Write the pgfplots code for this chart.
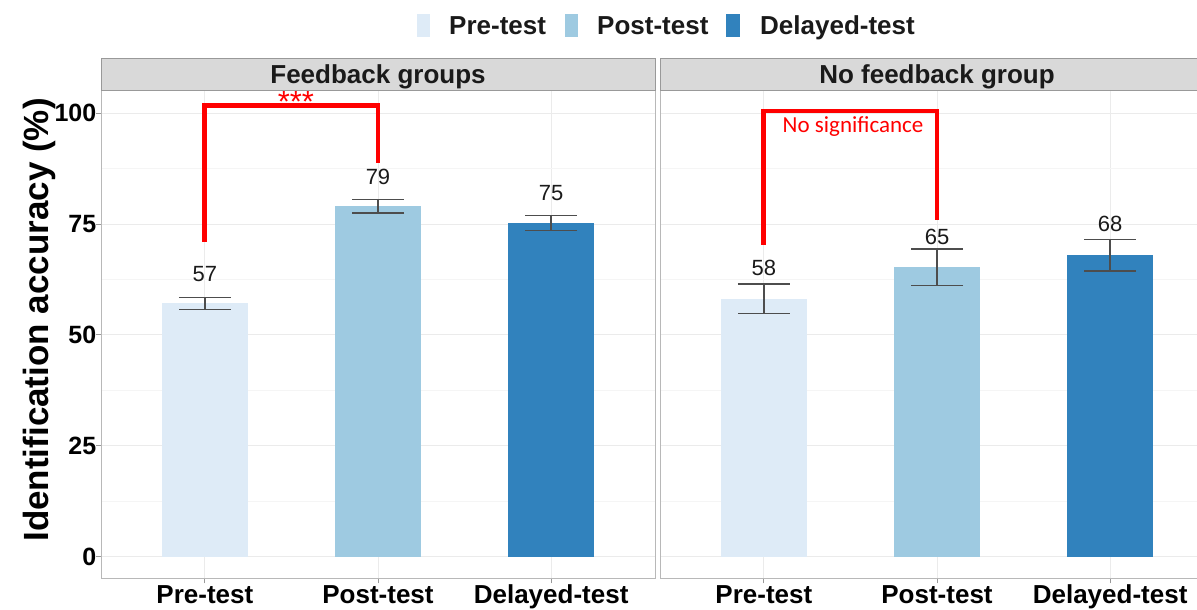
\documentclass[border=0pt]{standalone}
\usepackage{fontspec}
\setmainfont{Liberation Sans}
\newfontfamily\annofont{Carlito}
\usepackage{pgfplots}
\pgfplotsset{compat=1.18}
\definecolor{preC}{HTML}{DEEBF7}
\definecolor{postC}{HTML}{9ECAE1}
\definecolor{delC}{HTML}{3182BD}
\definecolor{stripfill}{HTML}{D9D9D9}
\definecolor{stripborder}{HTML}{999999}
\definecolor{panelborder}{HTML}{B8B8B8}
\definecolor{gridmaj}{HTML}{EBEBEB}
\definecolor{gridmin}{HTML}{F5F5F5}
\definecolor{errC}{HTML}{4D4D4D}
\definecolor{sigred}{HTML}{FF0000}
\definecolor{txt}{HTML}{1A1A1A}

\tikzset{vlab/.style={anchor=base, text=txt, font=\fontsize{22}{22}\selectfont}}
\pgfplotsset{
  panel/.style={
    scale only axis, height=488pt, ymin=-5, ymax=105,
    clip=false,
    ytick={0,25,50,75,100}, minor ytick={12.5,37.5,62.5,87.5},
    xtick={1,2,3}, xticklabels={Pre-test,Post-test,Delayed-test},
    ymajorgrids, xmajorgrids, yminorgrids,
    major grid style={draw=gridmaj, line width=1pt},
    minor grid style={draw=gridmin, line width=0.7pt},
    axis line style={draw=panelborder, line width=1pt},
    tick align=outside, major tick length=4.5pt, minor tick length=0pt,
    tick style={draw=gray!80, line width=1pt},
    xtick pos=left, ytick pos=left,
    ticklabel style={font=\bfseries\fontsize{26}{26}\selectfont, text=black},
    /pgf/number format/assume math mode=true,
    yticklabel style={anchor=east, inner sep=0pt, font=\bfseries\fontsize{25}{25}\selectfont},
    xticklabel style={anchor=base, inner sep=0pt, yshift=-19.7pt},
  },
  bars/.style={ybar, bar width=0.5, bar shift=0pt, draw=none, fill=#1,
    error bars/.cd, y dir=both, y explicit, error mark=|,
    error bar style={draw=errC, line width=1.3pt},
    error mark options={draw=errC, line width=1.3pt, mark size=26pt}},
}

\begin{document}
\begin{tikzpicture}
\path[use as bounding box] (0pt,0pt) rectangle (1197pt,610pt);

% ---------------- left panel ----------------
\begin{axis}[panel, at={(101pt,31pt)}, anchor=south west,
  width=554pt, xmin=0.4, xmax=3.6]
\addplot[bars=preC]  coordinates {(1,57.1) +- (0,1.4)};
\addplot[bars=postC] coordinates {(2,79.0) +- (0,1.5)};
\addplot[bars=delC]  coordinates {(3,75.2) +- (0,1.7)};
\node[vlab] at (axis cs:1,62.0) {57};
\node[vlab] at (axis cs:2,84.0) {79};
\node[vlab] at (axis cs:3,80.3) {75};
\draw[sigred, line width=4.8pt, line join=miter] (axis cs:1,71.0) -- (axis cs:1,101.8) -- (axis cs:2,101.8) -- (axis cs:2,88.7);
\node[anchor=base, text=sigred, font=\fontsize{31}{31}\selectfont] at (axis cs:1.526,100.2) {***};
\draw[fill=stripfill, draw=stripborder, line width=1pt] (rel axis cs:0,1) rectangle ([yshift=32.7pt]rel axis cs:1,1);
\node[anchor=base, text=txt, font=\bfseries\fontsize{26}{26}\selectfont] at ([yshift=7.7pt]rel axis cs:0.5,1) {Feedback groups};
\end{axis}

% ---------------- right panel ----------------
\begin{axis}[panel, at={(660pt,31pt)}, anchor=south west,
  width=540pt, xmin=0.4, xmax=3.5191, yticklabels={}, ytick style={draw=none}]
\addplot[bars=preC]  coordinates {(1,58.2) +- (0,3.3)};
\addplot[bars=postC] coordinates {(2,65.3) +- (0,4.1)};
\addplot[bars=delC]  coordinates {(3,68.0) +- (0,3.6)};
\node[vlab] at (axis cs:1,63.5) {58};
\node[vlab] at (axis cs:2,70.5) {65};
\node[vlab] at (axis cs:3,73.3) {68};
\draw[sigred, line width=4.8pt, line join=miter] (axis cs:1,70.3) -- (axis cs:1,100.5) -- (axis cs:2,100.5) -- (axis cs:2,75.9);
\node[anchor=base, text=sigred, font=\annofont\fontsize{23}{23}\selectfont] at (axis cs:1.515,95.6) {No significance};
\draw[fill=stripfill, draw=stripborder, line width=1pt] (rel axis cs:0,1) rectangle ([yshift=32.7pt]axis cs:3.6,105);
\node[anchor=base, text=txt, font=\bfseries\fontsize{26}{26}\selectfont] at ([yshift=7.7pt]axis cs:2,105) {No feedback group};
\end{axis}

% ---------------- y label ----------------
\node[rotate=90, anchor=base, text=black, font=\bfseries\fontsize{35}{35}\selectfont] at (48pt,290pt) {Identification accuracy (\%)};

% ---------------- legend ----------------
\fill[preC] (417pt,573pt) rectangle (430pt,596pt);
\node[anchor=base west, inner sep=0pt, text=txt, font=\bfseries\fontsize{26}{26}\selectfont] at (449pt,575pt) {Pre-test};
\fill[postC] (565pt,573pt) rectangle (578pt,596pt);
\node[anchor=base west, inner sep=0pt, text=txt, font=\bfseries\fontsize{26}{26}\selectfont] at (597pt,575pt) {Post-test};
\fill[delC] (726pt,573pt) rectangle (740pt,596pt);
\node[anchor=base west, inner sep=0pt, text=txt, font=\bfseries\fontsize{26}{26}\selectfont] at (760pt,575pt) {Delayed-test};
\end{tikzpicture}
\end{document}
